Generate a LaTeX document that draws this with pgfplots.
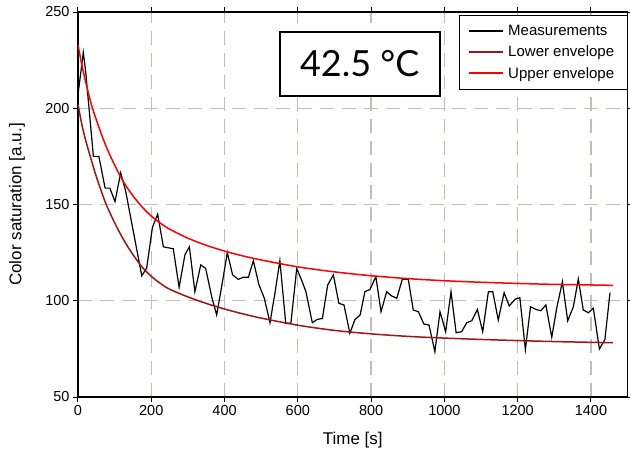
\documentclass[border=0pt]{standalone}
\usepackage{pgfplots}
\pgfplotsset{compat=1.18}
\usepackage{fontspec}
\setmainfont{Liberation Sans}
\newfontfamily\lato{Lato}
\definecolor{gridc}{RGB}{192,192,178}
\definecolor{lowc}{RGB}{160,20,20}
\definecolor{upc}{RGB}{255,0,0}
\begin{document}
\begin{tikzpicture}
\useasboundingbox (-78pt,-62pt) rectangle (552pt,397pt);
\begin{axis}[
  at={(0pt,0pt)}, anchor=south west,
  scale only axis, width=549.6pt, height=385pt,
  xmin=0, xmax=1500, ymin=50, ymax=250,
  xtick={0,200,...,1400}, ytick={50,100,...,250},
  axis line style={line width=1.2pt},
  tick align=outside, major tick length=5pt,
  tick style={line width=1pt, black},
  grid=major,
  major grid style={gridc, line width=1.3pt, dash pattern=on 14pt off 8pt},
  /pgf/number format/assume math mode=true,
  /pgf/number format/1000 sep={},
  tick label style={font=\fontsize{14.5}{17}\selectfont},
  xlabel={Time [s]}, ylabel={Color saturation [a.u.]},
  label style={font=\fontsize{17}{20}\selectfont},
  xlabel style={at={(axis description cs:0.5,0)}, anchor=center, yshift=-43pt},
  ylabel style={at={(axis description cs:0,0.5)}, anchor=center, yshift=61pt},
  legend style={at={(1,1)}, anchor=north east, yshift=-2.5pt, draw=black, line width=0.9pt,
    font=\fontsize{15}{17}\selectfont, inner xsep=9pt, inner ysep=8pt, row sep=5pt,
    nodes={inner xsep=4pt}},
  legend cell align=left,
  legend image code/.code={\draw[#1,line width=1.8pt] (0pt,0pt) -- (34pt,0pt);},
]
\addplot[black, line width=1.2pt] coordinates {
(0,207) (14.5,229) (21,219) (42,175) (57,175) (74,158.5) (87,158.5) (101,151.5)
(116.5,166.5) (130,157) (174,113) (187.5,117) (203,138) (217.5,145) (233,128)
(247,127.5) (260,127) (276,107) (292,124) (304,128) (319,104.7) (335,118.6)
(348.5,116.8) (365,102) (378.5,92.6) (392,107.3) (407.5,125) (422,113.4)
(437.5,111.1) (451,112.2) (465,112.2) (478.5,120.8) (494,108.2) (508.5,101.3)
(524,88.6) (537.5,103.9) (551,120.8) (567,88.3) (581,88.3) (597,116.8)
(612,109.9) (622,104.7) (639.5,88.6) (653,90.3) (667,90.8) (681.5,108.2)
(697,113.4) (712,98.7) (726,97.8) (742,83.1) (756,90.3) (770,92.6) (783,104.7)
(797,105.9) (813,112.5) (827,94.3) (842.5,104.7) (856,102.5) (870,101.3)
(885,111.1) (901.5,111.1) (915,95.2) (929,94.3) (944,87.9) (958,87.4)
(974,73.5) (988,94.3) (1003.5,83.9) (1018,104.7) (1032,83.4) (1047,83.9)
(1061,88.6) (1074.5,89.6) (1090,95.5) (1104.5,83.9) (1120,104.7) (1132,104.7)
(1147,90.0) (1163,104.2) (1177,97.3) (1193,100.8) (1206,101.6) (1221,74.6)
(1235,96.9) (1250,95.5) (1263,94.8) (1277,97.8) (1293,81.0) (1306.5,96.1)
(1322,109.9) (1336.5,89.6) (1352,96.9) (1365.5,111.3) (1379,95.2) (1393,93.8)
(1406.5,96.1) (1423,74.9) (1438,79.8) (1452,104.2)
};
\addlegendentry{Measurements}
\addplot[lowc, line width=1.5pt, smooth] coordinates {
(0,202) (10,192) (20,184) (35,174) (50,164.5) (75,151) (100,140.5) (125,131.5)
(150,124) (175,117.5) (200,112.7) (225,109) (250,106) (300,102) (350,98.6)
(400,95.7) (450,93.2) (500,91) (600,87.3) (700,84.6) (800,82.8) (900,81.5)
(1000,80.6) (1100,79.9) (1200,79.3) (1300,78.8) (1400,78.4) (1460,78.2)
};
\addlegendentry{Lower envelope}
\addplot[upc, line width=1.5pt, smooth] coordinates {
(0,233) (10,223) (20,214.5) (35,203) (50,194) (75,181) (100,170.5) (125,161.5)
(150,154.5) (175,148.7) (200,144) (225,140.3) (250,137.2) (300,132.5) (350,128.8)
(400,125.8) (450,123.3) (500,121.2) (600,117.6) (700,115) (800,113) (900,111.5)
(1000,110.4) (1100,109.6) (1200,109) (1300,108.5) (1400,108.2) (1460,108)
};
\addlegendentry{Upper envelope}
\node[draw=black, fill=white, line width=1.6pt, minimum width=160pt, minimum height=64pt,
  inner sep=0pt, font=\lato\fontsize{36}{40}\selectfont] at (axis cs:769,223) {42.5 °C};
\end{axis}
\end{tikzpicture}
\end{document}
